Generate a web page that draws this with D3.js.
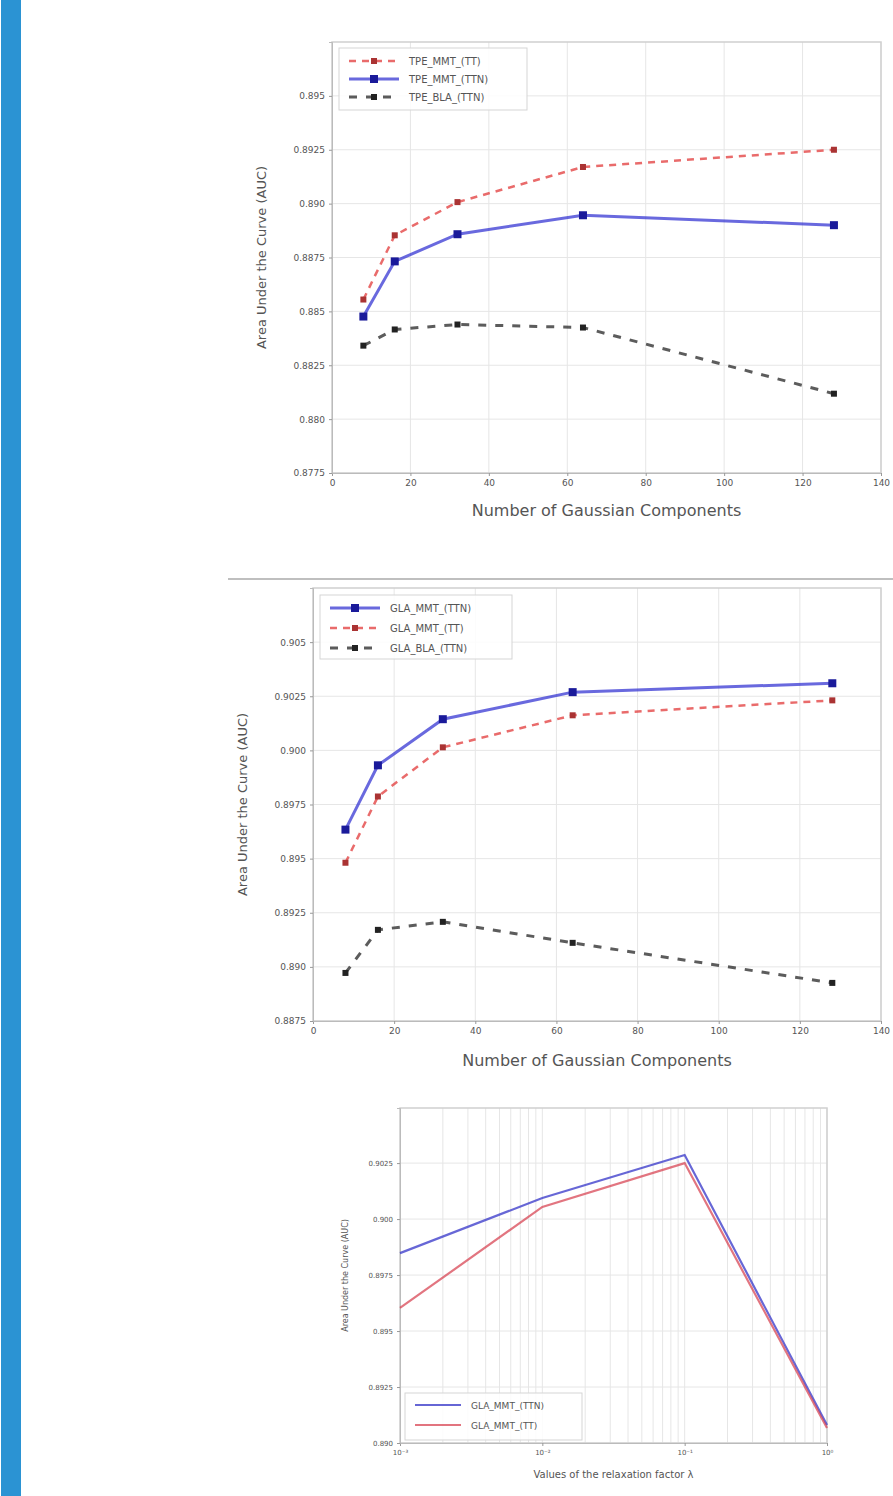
<html>
<head>
<script src="https://cdnjs.cloudflare.com/ajax/libs/d3/7.8.5/d3.min.js"></script>
<style>
  body { margin: 0; background: #fff; }
  svg text { font-family: "DejaVu Sans", sans-serif; }
</style>
</head>
<body>
<svg id="page" width="893" height="1496"></svg>
<script>
// ---- data ----
const components = [8, 16, 32, 64, 128];
const xTicksComp = [0, 20, 40, 60, 80, 100, 120, 140];

// figure 1
const fig1Names = ["TPE_MMT_(TT)", "TPE_MMT_(TTN)", "TPE_BLA_(TTN)"];
const fig1Red = [0.88555, 0.88853, 0.89007, 0.8917, 0.8925];
const fig1Blue = [0.88476, 0.88732, 0.88858, 0.88946, 0.8890];
const fig1Black = [0.88341, 0.88416, 0.88439, 0.88425, 0.88118];
const fig1YTicks = [0.8775, 0.880, 0.8825, 0.885, 0.8875, 0.890, 0.8925, 0.895];

// figure 2
const fig2Names = ["GLA_MMT_(TTN)", "GLA_MMT_(TT)", "GLA_BLA_(TTN)"];
const fig2Blue = [0.89634, 0.89931, 0.90144, 0.90269, 0.9031];
const fig2Red = [0.89481, 0.89787, 0.90014, 0.90162, 0.90231];
const fig2Black = [0.88972, 0.89171, 0.89208, 0.89111, 0.88926];
const fig2YTicks = [0.8875, 0.890, 0.8925, 0.895, 0.8975, 0.900, 0.9025, 0.905];

// figure 3
const lambdas = [0.001, 0.01, 0.1, 1];
const fig3Names = ["GLA_MMT_(TTN)", "GLA_MMT_(TT)"];
const fig3Blue = [0.89848, 0.90094, 0.90286, 0.8908];
const fig3Red = [0.89603, 0.90054, 0.9025, 0.89067];
const fig3YTicks = [0.890, 0.8925, 0.895, 0.8975, 0.900, 0.9025];

const svg = d3.select("#page");

// left blue bar
svg.append("rect").attr("x", 1).attr("y", 0).attr("width", 20).attr("height", 1496)
  .attr("fill", "#2b93d3");

// separator above figure 2
svg.append("line").attr("x1", 228).attr("x2", 893).attr("y1", 579).attr("y2", 579)
  .attr("stroke", "#aaa").attr("stroke-width", 1.5);

function tickFmt(v) {
  let s = d3.format(".4f")(v);
  if (s.endsWith("0")) s = s.slice(0, -1);
  return s;
}

function drawChart(c) {
  const g = svg.append("g");
  let x;
  if (c.log) {
    x = d3.scaleLog().domain(c.xDomain).range([c.left, c.right]);
  } else {
    x = d3.scaleLinear().domain(c.xDomain).range([c.left, c.right]);
  }
  const y = d3.scaleLinear().domain(c.yDomain).range([c.bottom, c.top]);

  // grid
  const xGrid = c.log ? x.ticks() : c.xTicks;
  g.selectAll(".vg").data(xGrid).join("line")
    .attr("x1", d => x(d)).attr("x2", d => x(d))
    .attr("y1", c.top).attr("y2", c.bottom)
    .attr("stroke", "#e6e6e6").attr("stroke-width", 1);
  g.selectAll(".hg").data(c.yTicks).join("line")
    .attr("x1", c.left).attr("x2", c.right)
    .attr("y1", d => y(d)).attr("y2", d => y(d))
    .attr("stroke", "#e6e6e6").attr("stroke-width", 1);

  // frame
  g.append("rect").attr("x", c.left).attr("y", c.top)
    .attr("width", c.right - c.left).attr("height", c.bottom - c.top)
    .attr("fill", "none").attr("stroke", "#cfcfcf").attr("stroke-width", 1.5);

  // axes
  const ax = d3.axisBottom(x).tickSize(3).tickPadding(4);
  if (c.log) {
    ax.tickValues(c.xTicks).tickFormat(d => "10" + ("" + Math.round(Math.log10(d)))
      .replace("-", "⁻").replace("0", "⁰").replace("1", "¹").replace("2", "²").replace("3", "³"));
  } else {
    ax.tickValues(c.xTicks).tickFormat(d3.format("d"));
  }
  const xa = g.append("g").attr("transform", "translate(0," + c.bottom + ")").call(ax);
  const ya = g.append("g").attr("transform", "translate(" + c.left + ",0)")
    .call(d3.axisLeft(y).tickValues(c.yTicks).tickFormat(tickFmt).tickSize(3).tickPadding(4));
  [xa, ya].forEach(a => {
    a.select(".domain").attr("stroke", "#bbb");
    a.selectAll(".tick line").attr("stroke", "#999");
    a.selectAll("text").attr("fill", "#555").style("font-size", c.tickSize + "px");
  });

  // labels
  g.append("text").attr("x", (c.left + c.right) / 2).attr("y", c.xLabelY)
    .attr("text-anchor", "middle").attr("fill", "#555")
    .style("font-size", c.labelSize + "px").text(c.xLabel);
  g.append("text").attr("transform", "translate(" + c.yLabelX + "," + ((c.top + c.bottom) / 2) + ") rotate(-90)")
    .attr("text-anchor", "middle").attr("fill", "#555")
    .style("font-size", c.yLabelSize + "px").text("Area Under the Curve (AUC)");

  // series
  const line = d3.line().x(d => x(d[0])).y(d => y(d[1]));
  c.series.forEach(s => {
    const pts = c.xs.map((xv, i) => [xv, s.values[i]]);
    g.append("path").datum(pts).attr("d", line)
      .attr("fill", "none").attr("stroke", s.color).attr("stroke-width", s.width)
      .attr("stroke-dasharray", s.dash || null).attr("opacity", s.opacity);
    if (s.marker) {
      g.selectAll(null).data(pts).join("rect")
        .attr("x", d => x(d[0]) - s.marker / 2).attr("y", d => y(d[1]) - s.marker / 2)
        .attr("width", s.marker).attr("height", s.marker)
        .attr("fill", s.markerColor || s.color);
    }
  });

  // legend
  const L = c.legend;
  g.append("rect").attr("x", L.x).attr("y", L.y).attr("width", L.w).attr("height", L.h)
    .attr("fill", "#fff").attr("fill-opacity", 0.85).attr("stroke", "#d5d5d5");
  c.series.forEach((s, i) => {
    const ly = L.y + L.pad + i * L.row;
    g.append("line").attr("x1", L.x + 10).attr("x2", L.x + 10 + L.sample)
      .attr("y1", ly).attr("y2", ly)
      .attr("stroke", s.color).attr("stroke-width", s.width)
      .attr("stroke-dasharray", s.dash || null).attr("opacity", s.opacity);
    if (s.marker) {
      g.append("rect").attr("x", L.x + 10 + L.sample / 2 - s.marker / 2).attr("y", ly - s.marker / 2)
        .attr("width", s.marker).attr("height", s.marker).attr("fill", s.markerColor || s.color);
    }
    g.append("text").attr("x", L.x + 20 + L.sample).attr("y", ly + 4)
      .attr("fill", "#555").style("font-size", L.font + "px").text(s.name);
  });
}

drawChart({
  left: 332, right: 881, top: 42, bottom: 473,
  xDomain: [0, 140], yDomain: [0.8775, 0.8975],
  xTicks: xTicksComp, yTicks: fig1YTicks, xs: components,
  tickSize: 9, labelSize: 16, yLabelSize: 13,
  xLabel: "Number of Gaussian Components", xLabelY: 516, yLabelX: 266,
  series: [
    { name: fig1Names[0], values: fig1Red, color: "#e23a3a", width: 2.5, dash: "7,6", opacity: 0.75, marker: 6, markerColor: "#a33" },
    { name: fig1Names[1], values: fig1Blue, color: "#2a2ad0", width: 3, opacity: 0.7, marker: 8, markerColor: "#1a1a9a" },
    { name: fig1Names[2], values: fig1Black, color: "#333", width: 3, dash: "8,9", opacity: 0.8, marker: 6, markerColor: "#222" }
  ],
  legend: { x: 339, y: 48, w: 188, h: 62, pad: 13, row: 18, sample: 50, font: 10 }
});

drawChart({
  left: 313, right: 881, top: 588, bottom: 1021,
  xDomain: [0, 140], yDomain: [0.8875, 0.9075],
  xTicks: xTicksComp, yTicks: fig2YTicks, xs: components,
  tickSize: 9, labelSize: 16, yLabelSize: 13,
  xLabel: "Number of Gaussian Components", xLabelY: 1066, yLabelX: 247,
  series: [
    { name: fig2Names[0], values: fig2Blue, color: "#2a2ad0", width: 3, opacity: 0.7, marker: 8, markerColor: "#1a1a9a" },
    { name: fig2Names[1], values: fig2Red, color: "#e23a3a", width: 2.5, dash: "7,6", opacity: 0.75, marker: 6, markerColor: "#a33" },
    { name: fig2Names[2], values: fig2Black, color: "#333", width: 3, dash: "8,9", opacity: 0.8, marker: 6, markerColor: "#222" }
  ],
  legend: { x: 320, y: 595, w: 192, h: 64, pad: 13, row: 20, sample: 50, font: 10 }
});

drawChart({
  log: true,
  left: 400, right: 827, top: 1108, bottom: 1443,
  xDomain: [0.001, 1], yDomain: [0.890, 0.90496],
  xTicks: lambdas, yTicks: fig3YTicks, xs: lambdas,
  tickSize: 7, labelSize: 10, yLabelSize: 8,
  xLabel: "Values of the relaxation factor λ", xLabelY: 1478, yLabelX: 348,
  series: [
    { name: fig3Names[0], values: fig3Blue, color: "#3434c8", width: 2.2, opacity: 0.75 },
    { name: fig3Names[1], values: fig3Red, color: "#d63a4a", width: 2.2, opacity: 0.7 }
  ],
  legend: { x: 405, y: 1393, w: 177, h: 47, pad: 12, row: 20, sample: 46, font: 9 }
});
</script>
</body>
</html>
